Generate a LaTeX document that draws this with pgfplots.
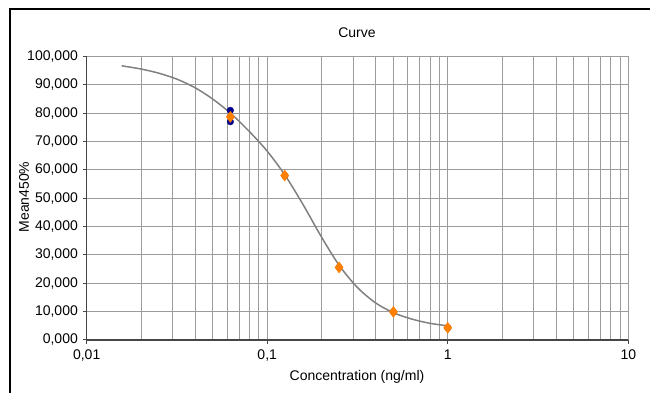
\documentclass[border=0pt]{standalone}
\usepackage{pgfplots}
\pgfplotsset{compat=1.18}
\usepackage{fontspec}
\setmainfont{Liberation Sans}
\definecolor{gridc}{RGB}{155,155,155}
\definecolor{axc}{RGB}{70,70,70}
\definecolor{curvec}{RGB}{128,128,128}
\definecolor{repc}{RGB}{0,0,140}
\definecolor{meanc}{RGB}{255,128,0}
\begin{document}
\begin{tikzpicture}[x=1pt,y=1pt]
\fontsize{14}{16}\selectfont
\path[use as bounding box] (0,0) rectangle (650,393);
\draw[line width=2pt,black] (10,0) -- (10,384) -- (650,384);
\begin{axis}[
  at={(86.7pt,53pt)}, anchor=south west,
  scale only axis, width=541.6pt, height=283.5pt,
  xmode=log, xmin=0.01, xmax=10,
  ymin=0, ymax=100,
  xtick={0.01,0.1,1,10},
  xticklabels={{0,01},{0,1},{1},{10}},
  ytick={0,10,...,100},
  /pgf/number format/.cd, fixed, fixed zerofill, precision=3, use comma, 1000 sep={}, assume math mode=true,
  /pgfplots/.cd,
  axis x line*=bottom, axis y line*=left,
  axis line style={axc, line width=1.2pt, -},
  tick align=outside,
  major tick length=4pt, minor tick length=0pt,
  tick style={axc, line width=1pt},
  grid=both,
  major grid style={gridc, line width=1pt},
  minor grid style={gridc, line width=1pt},
  ticklabel style={font=\fontsize{14}{16}\selectfont},
  xticklabel style={yshift=-1pt},
  clip=false,
]
\addplot[curvec, line width=1.5pt, smooth, no marks] coordinates {
(0.01563,96.7) (0.01995,95.6) (0.02512,94.1) (0.03162,92.0) (0.03981,89.0)
(0.05012,84.9) (0.0631,79.8) (0.07943,73.6) (0.1,66.6) (0.1259,58.0)
(0.1585,47.6) (0.1995,36.4) (0.2512,26.2) (0.3162,18.5) (0.3981,13.1)
(0.5012,9.6) (0.631,7.4) (0.7943,5.9) (1.0,5.0)
};
\addplot[only marks, mark=*, mark size=3.3pt, color=repc] coordinates {
(0.0625,81.0) (0.0625,77.0) (0.125,58.0) (0.25,25.6) (0.5,9.9) (1.0,4.3)
};
\addplot[only marks, mark=diamond*, mark size=5.5pt, color=meanc] coordinates {
(0.0625,78.7) (0.125,58.0) (0.25,25.6) (0.5,9.9) (1.0,4.3)
};
\end{axis}
\node at (357,360) {Curve};
\node at (357,16) {Concentration (ng/ml)};
\node[rotate=90] at (24,196) {Mean450\%};
\end{tikzpicture}
\end{document}
